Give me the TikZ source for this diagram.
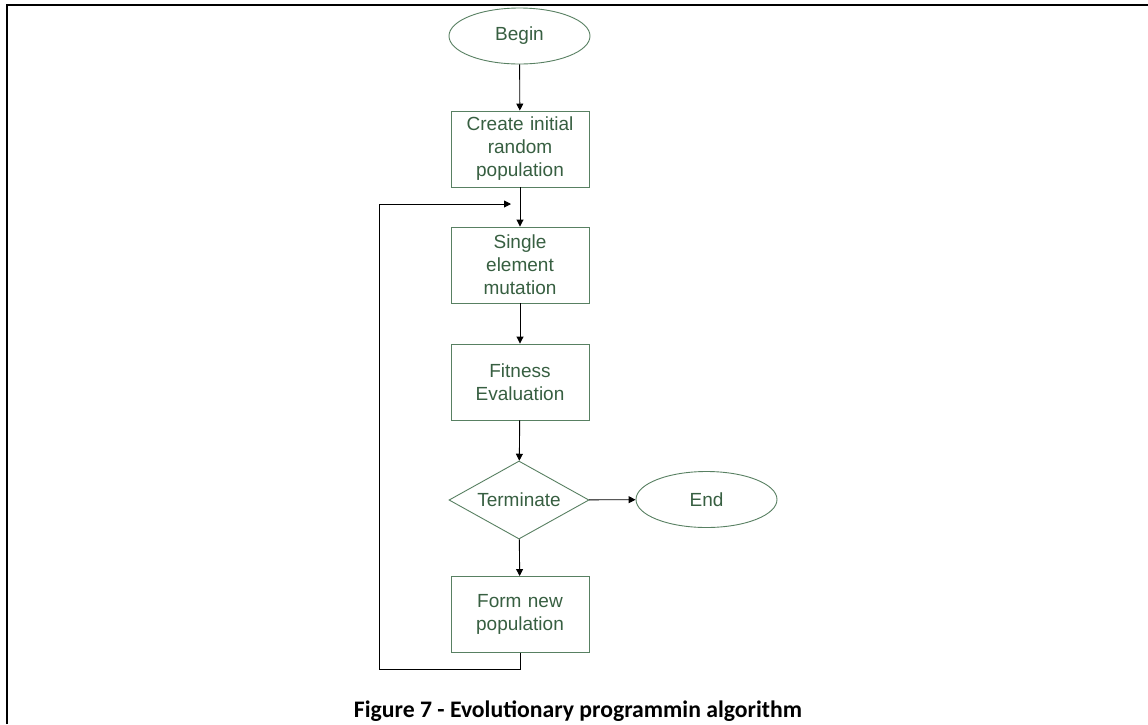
\documentclass[tikz,border=0pt]{standalone}
\usepackage{xcolor}
\usepackage{fontspec}
\setmainfont{Liberation Sans}
\newfontfamily\capfont{Carlito}
\usetikzlibrary{arrows.meta, shapes.geometric}
\definecolor{boxline}{RGB}{88,128,98}
\definecolor{boxtext}{RGB}{55,95,65}

\begin{document}
\begin{tikzpicture}[x=1pt, y=-1pt,
    every node/.style={text=boxtext, font=\fontsize{19}{23}\selectfont},
    stepbox/.style={draw=boxline, line width=0.9pt, rectangle, minimum width=138pt, minimum height=76pt, text width=132pt, align=center, inner sep=0pt},
    termbox/.style={draw=boxline, line width=0.9pt, ellipse, minimum width=141pt, minimum height=56pt, inner sep=0pt},
    testbox/.style={draw=boxline, line width=0.9pt, diamond, aspect=1.8, minimum width=140pt, minimum height=78pt, inner sep=0pt},
    flow/.style={draw=black, line width=0.9pt, -{Triangle[width=7pt,length=7pt]}}]
\useasboundingbox[fill=white] (0,0) rectangle (1148,724);
\draw[line width=2pt] (7,724) -- (7,5) -- (1148,5);
\node[termbox] at(519.5, 36)(begin){Begin};
\node[stepbox] at(520, 149)(create){Create initial\\random\\population};
\node[stepbox] at(520, 265)(mutate){Single\\element\\mutation};
\node[stepbox] at(520, 382)(fitness){Fitness\\Evaluation};
\node[testbox] at(519, 500)(term){Terminate};
\node[termbox] at(706.5, 499.5)(end){End};
\node[stepbox] at(520, 614.5)(newpop){Form new\\population};
\coordinate (loopbl) at (379, 669);
\coordinate (loopin) at (511, 204);
\path[flow] (begin) edge (create)
    (create) edge (mutate)
    (mutate) edge (fitness)
    (fitness) edge (term)
    (term) edge (newpop)
    (term) edge (end);
\draw[flow] (newpop.south) |- (loopbl) |- (loopin);
\node[anchor=base, inner sep=0pt, text=black, font=\capfont\bfseries\fontsize{23.7}{27}\selectfont] at(578, 717)(caption){Figure 7 - Evolutionary programmin algorithm};
\end{tikzpicture}
\end{document}
